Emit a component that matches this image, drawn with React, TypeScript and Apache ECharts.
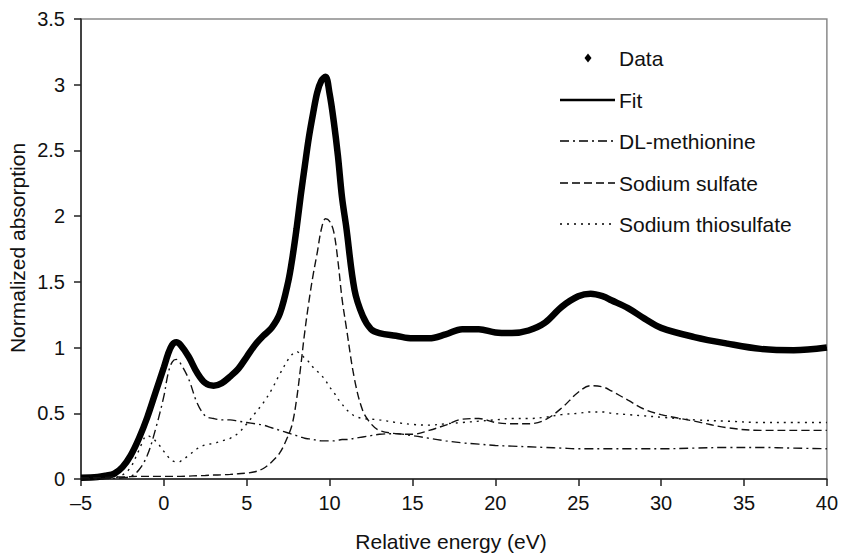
import React, { useEffect, useRef } from "react";
import * as echarts from "echarts";

// Relative energy (eV)
const energy = [-5, -4, -3.5, -3, -2.5, -2, -1.5, -1, -0.5, 0, 0.25, 0.5, 0.75, 1, 1.5, 2, 2.5, 3, 3.5, 4, 4.5, 5, 5.5, 6, 6.5, 7, 7.5, 7.75, 8, 8.25, 8.5, 8.75, 9, 9.25, 9.5, 9.75, 10, 10.25, 10.5, 10.75, 11, 11.5, 12, 12.5, 13, 14, 15, 16, 17, 18, 19, 20, 21, 22, 23, 24, 25, 25.75, 26.5, 27, 28, 29, 30, 32, 34, 36, 38, 40];

const dataValues = [0.01, 0.015, 0.025, 0.04, 0.09, 0.18, 0.31, 0.47, 0.66, 0.85, 0.95, 1.02, 1.04, 1.02, 0.93, 0.81, 0.73, 0.71, 0.73, 0.78, 0.84, 0.93, 1.02, 1.09, 1.15, 1.26, 1.5, 1.68, 1.9, 2.15, 2.38, 2.6, 2.78, 2.94, 3.03, 3.06, 2.93, 2.72, 2.46, 2.14, 1.92, 1.44, 1.24, 1.14, 1.11, 1.09, 1.07, 1.07, 1.1, 1.14, 1.14, 1.115, 1.11, 1.13, 1.19, 1.31, 1.39, 1.41, 1.39, 1.36, 1.3, 1.22, 1.15, 1.08, 1.03, 0.99, 0.98, 1.0];

const fitValues = [0.01, 0.015, 0.025, 0.04, 0.09, 0.18, 0.31, 0.47, 0.66, 0.85, 0.95, 1.02, 1.04, 1.02, 0.93, 0.81, 0.73, 0.71, 0.73, 0.78, 0.84, 0.92, 1.01, 1.1, 1.16, 1.26, 1.5, 1.68, 1.9, 2.15, 2.38, 2.6, 2.78, 2.94, 3.03, 3.06, 2.93, 2.72, 2.46, 2.14, 1.92, 1.44, 1.24, 1.14, 1.11, 1.09, 1.07, 1.07, 1.1, 1.14, 1.14, 1.115, 1.11, 1.13, 1.19, 1.31, 1.39, 1.41, 1.39, 1.36, 1.3, 1.22, 1.15, 1.08, 1.03, 0.99, 0.98, 1.0];

const methionine = [0, 0, 0.002, 0.005, 0.01, 0.02, 0.07, 0.18, 0.38, 0.63, 0.8, 0.89, 0.91, 0.88, 0.76, 0.58, 0.48, 0.46, 0.45, 0.45, 0.44, 0.43, 0.42, 0.41, 0.39, 0.37, 0.35, 0.34, 0.33, 0.32, 0.31, 0.305, 0.3, 0.295, 0.29, 0.29, 0.29, 0.29, 0.295, 0.3, 0.3, 0.31, 0.32, 0.33, 0.34, 0.345, 0.33, 0.31, 0.29, 0.275, 0.265, 0.255, 0.25, 0.245, 0.24, 0.235, 0.23, 0.23, 0.23, 0.23, 0.23, 0.23, 0.23, 0.235, 0.24, 0.24, 0.235, 0.23];

const sulfate = [0.01, 0.01, 0.012, 0.015, 0.015, 0.018, 0.02, 0.02, 0.02, 0.02, 0.02, 0.02, 0.02, 0.02, 0.022, 0.025, 0.027, 0.03, 0.032, 0.035, 0.04, 0.045, 0.055, 0.08, 0.13, 0.2, 0.33, 0.42, 0.6, 0.85, 1.12, 1.35, 1.55, 1.72, 1.9, 1.98, 1.96, 1.88, 1.66, 1.37, 1.16, 0.76, 0.52, 0.42, 0.37, 0.345, 0.34, 0.37, 0.41, 0.455, 0.46, 0.43, 0.42, 0.42, 0.45, 0.54, 0.66, 0.71, 0.7, 0.67, 0.6, 0.53, 0.49, 0.44, 0.39, 0.37, 0.37, 0.37];

const thiosulfate = [0, 0, 0.005, 0.01, 0.03, 0.09, 0.22, 0.33, 0.29, 0.21, 0.17, 0.14, 0.13, 0.135, 0.18, 0.23, 0.26, 0.27, 0.29, 0.31, 0.35, 0.42, 0.5, 0.58, 0.68, 0.8, 0.91, 0.95, 0.97, 0.95, 0.92, 0.89, 0.85, 0.82, 0.79, 0.75, 0.7, 0.66, 0.61, 0.57, 0.53, 0.48, 0.46, 0.455, 0.45, 0.43, 0.415, 0.41, 0.42, 0.43, 0.44, 0.45, 0.46, 0.46, 0.47, 0.49, 0.5, 0.51, 0.51, 0.5, 0.49, 0.48, 0.47, 0.45, 0.44, 0.43, 0.43, 0.43];

const legendNames = ["Data", "Fit", "DL-methionine", "Sodium sulfate", "Sodium thiosulfate"];

const FONT = '"Liberation Sans", Arial, Helvetica, sans-serif';

const pairs = (ys: number[]) => energy.map((x, i) => [x, ys[i]]);

export default function App() {
  const ref = useRef<HTMLDivElement>(null);
  useEffect(() => {
    if (!ref.current) return;
    const chart = echarts.init(ref.current, null, { renderer: "svg" });
    const legendX0 = 560;
    const legendX1 = 615;
    const rows = [58, 100, 141, 183, 224];
    const dashes: (number[] | null)[] = [null, null, [9, 4, 2, 4], [8, 4], [2, 5]];
    const legendGraphics: any[] = [];
    legendNames.forEach((name, i) => {
      if (i === 0) {
        legendGraphics.push({
          type: "polygon",
          shape: { points: [[588, rows[i] - 4.5], [591.5, rows[i]], [588, rows[i] + 4.5], [584.5, rows[i]]] },
          style: { fill: "#000" },
        });
      } else {
        legendGraphics.push({
          type: "line",
          shape: { x1: legendX0, y1: rows[i], x2: legendX1, y2: rows[i] },
          style: { stroke: "#000", lineWidth: i === 1 ? 2.5 : 1.4, lineDash: dashes[i] || undefined },
        });
      }
      legendGraphics.push({
        type: "text",
        x: 619,
        y: rows[i],
        style: { text: name, font: `21px ${FONT}`, fill: "#111", align: "left", verticalAlign: "middle" },
      });
    });

    chart.setOption({
      animation: false,
      backgroundColor: "#fff",
      grid: { left: 81, right: 12, top: 19, bottom: 74, show: true, borderColor: "#8a8a8a", borderWidth: 1.5 },
      xAxis: {
        type: "value",
        min: -5,
        max: 40,
        interval: 5,
        axisLine: { show: true, onZero: false, lineStyle: { color: "#222", width: 1.5 } },
        axisTick: { show: true, inside: false, length: 7, lineStyle: { color: "#222", width: 1.5 } },
        axisLabel: {
          margin: 14,
          color: "#111",
          fontSize: 20,
          fontFamily: FONT,
          formatter: (v: number) => (v < 0 ? "\u2013" + Math.abs(v) : String(v)),
        },
        splitLine: { show: false },
      },
      yAxis: {
        type: "value",
        min: 0,
        max: 3.5,
        interval: 0.5,
        axisLine: { show: true, onZero: false, lineStyle: { color: "#222", width: 1.5 } },
        axisTick: { show: true, inside: false, length: 7, lineStyle: { color: "#222", width: 1.5 } },
        axisLabel: { margin: 16, color: "#111", fontSize: 20, fontFamily: FONT },
        splitLine: { show: false },
      },
      graphic: [
        {
          type: "text",
          x: 451,
          y: 541,
          style: { text: "Relative energy (eV)", font: `21px ${FONT}`, fill: "#111", align: "center", verticalAlign: "middle" },
        },
        {
          type: "text",
          x: 17,
          y: 248,
          rotation: Math.PI / 2,
          style: { text: "Normalized absorption", font: `21px ${FONT}`, fill: "#111", align: "center", verticalAlign: "middle" },
        },
        ...legendGraphics,
      ],
      series: [
        {
          name: "Data",
          type: "line",
          data: pairs(dataValues),
          smooth: 0.35,
          showSymbol: false,
          lineStyle: { color: "#000", width: 6.5 },
          z: 2,
        },
        {
          name: "Fit",
          type: "line",
          data: pairs(fitValues),
          smooth: 0.35,
          showSymbol: false,
          lineStyle: { color: "#000", width: 1.5 },
          z: 3,
        },
        {
          name: "DL-methionine",
          type: "line",
          data: pairs(methionine),
          smooth: 0.35,
          showSymbol: false,
          lineStyle: { color: "#111", width: 1.4, type: [9, 4, 2, 4] },
          z: 4,
        },
        {
          name: "Sodium sulfate",
          type: "line",
          data: pairs(sulfate),
          smooth: 0.35,
          showSymbol: false,
          lineStyle: { color: "#111", width: 1.4, type: [8, 4] },
          z: 4,
        },
        {
          name: "Sodium thiosulfate",
          type: "line",
          data: pairs(thiosulfate),
          smooth: 0.35,
          showSymbol: false,
          lineStyle: { color: "#111", width: 1.4, type: [2, 5] },
          z: 4,
        },
      ],
    });
    return () => chart.dispose();
  }, []);
  return <div ref={ref} style={{ position: "absolute", left: 0, top: 0, width: 841, height: 553 }} />;
}
